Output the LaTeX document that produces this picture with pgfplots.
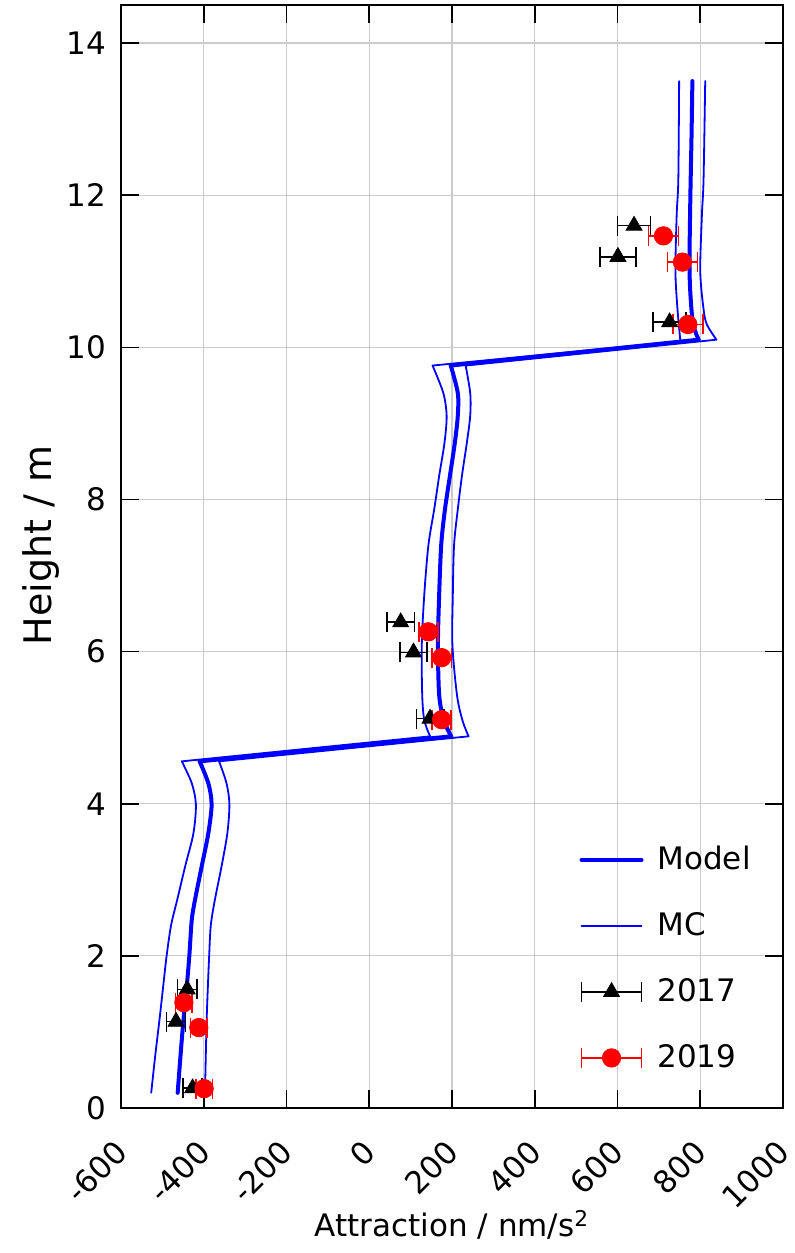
\documentclass[border=0pt]{standalone}
\usepackage{pgfplots}
\pgfplotsset{compat=1.18}
\usepackage{fontspec}
\setmainfont{DejaVu Sans}
\newcommand{\fs}{\fontsize{15.5}{18}\selectfont}
\pgfplotstableread{
x y
-463 0.2
-456 0.7
-449 1.16
-441 1.6
-435 1.99
-429 2.47
-421 2.74
-405 3.175
-389 3.61
-381 3.99
-389 4.27
-410 4.557
}\modelA
\pgfplotstableread{
x y
198 4.886
180 5.1
169 5.43
166 6.09
169 6.75
174 7.41
183 7.87
195 8.31
207 8.75
214 9.10
214 9.40
197 9.76
}\modelB
\pgfplotstableread{
x y
796 10.10
783 10.30
777 10.63
774 11.07
776 11.95
779 12.8
781 13.5
}\modelC
\pgfplotstableread{
x y
-527 0.2
-517 0.7
-507 1.16
-498 1.6
-490 1.99
-479 2.4
-464 2.74
-445 3.175
-425 3.61
-419 3.99
-429 4.27
-453 4.557
}\leftA
\pgfplotstableread{
x y
147 4.886
133 5.1
128 5.43
127 6.09
133 6.75
143 7.40
157 7.87
169 8.31
182 8.75
187 9.10
179 9.40
153 9.76
}\leftB
\pgfplotstableread{
x y
752 10.08
745 10.5
740 11.0
743 11.74
747 12.21
749 13.5
}\leftC
\pgfplotstableread{
x y
-397 0.2
-395 0.7
-393 1.16
-390 1.6
-387 1.99
-383 2.4
-373 2.74
-357 3.175
-343 3.61
-338 3.99
-345 4.27
-363 4.557
}\rightA
\pgfplotstableread{
x y
240 4.886
225 5.1
212 5.43
201 6.09
202 6.75
205 7.4
214 7.87
224 8.31
236 8.75
244 9.10
244 9.40
233 9.76
}\rightB
\pgfplotstableread{
x y
839 10.10
816 10.30
808 10.5
800 11.0
804 11.74
808 12.21
812 13.5
}\rightC
\begin{document}
\begin{tikzpicture}
\begin{axis}[
  scale only axis,
  width=331pt, height=551.5pt,
  xmin=-600, xmax=1000, ymin=0, ymax=14.5,
  xtick={-600,-400,...,1000}, ytick={0,2,...,14},
  /pgf/number format/assume math mode=true,
  /pgf/number format/1000 sep={},
  grid=major,
  major grid style={gray!40, line width=0.6pt},
  major tick length=9pt,
  tick style={black, line width=0.8pt},
  axis line style={black, line width=1pt},
  tick label style={font=\fs},
  xticklabel style={xshift=-4pt, yshift=-10pt, rotate=45, anchor=north east},
  yticklabel style={xshift=-4pt},
  xlabel={Attraction / nm/s\textsuperscript{2}},
  ylabel={Height / m},
  every axis x label/.style={at={([yshift=-58.5pt]axis description cs:0.5,0)}, anchor=center, font=\fs},
  every axis y label/.style={at={([xshift=-40pt]axis description cs:0,0.51)}, anchor=center, rotate=90, font=\fontsize{19}{22}\selectfont},
  legend style={draw=none, fill=none, font=\fs, at={(0.683,0.026)}, anchor=south west, row sep=16pt, column sep=5pt, legend cell align=left},
  legend image code/.code={\draw[#1] (0pt,0pt) -- (30pt,0pt);},
  model/.style={blue, line width=2pt, line cap=round, line join=round},
  mc/.style={blue, line width=0.9pt, line cap=round, line join=round},
]
% Model
\addplot[model, smooth] table {\modelA};
\addlegendentry{Model}
\addplot[model, smooth, forget plot] table {\modelB};
\addplot[model, smooth, forget plot] table {\modelC};
\addplot[model, forget plot] coordinates {(-410,4.557) (198,4.886)};
\addplot[model, forget plot] coordinates {(197,9.76) (796,10.10)};
% MC
\addplot[mc, smooth] table {\leftA};
\addlegendentry{MC}
\addplot[mc, smooth, forget plot] table {\leftB};
\addplot[mc, smooth, forget plot] table {\leftC};
\addplot[mc, forget plot] coordinates {(-453,4.557) (147,4.886)};
\addplot[mc, forget plot] coordinates {(153,9.76) (752,10.08)};
\addplot[mc, smooth, forget plot] table {\rightA};
\addplot[mc, smooth, forget plot] table {\rightB};
\addplot[mc, smooth, forget plot] table {\rightC};
\addplot[mc, forget plot] coordinates {(-363,4.557) (240,4.886)};
\addplot[mc, forget plot] coordinates {(233,9.76) (839,10.10)};
% 2017
\addplot[black, only marks, mark=triangle*, mark size=4.6pt,
  legend image code/.code={
    \draw[black, line width=0.8pt] (0pt,0pt) -- (30pt,0pt) (0pt,-5pt) -- (0pt,5pt) (30pt,-5pt) -- (30pt,5pt);
    \draw[black, mark=triangle*, mark size=4.6pt] plot coordinates {(15pt,0pt)};
  },
  error bars/.cd, x dir=both, x explicit, error mark=|, error bar style={black, line width=0.8pt},
  error mark options={black, mark size=5pt, line width=0.8pt}]
  coordinates {
(-440,1.56) +- (23,0)
(-467,1.135) +- (23,0)
(-427,0.26) +- (23,0)
(76,6.386) +- (33,0)
(107,5.99) +- (33,0)
(147,5.12) +- (33,0)
(640,11.6) +- (40,0)
(601,11.19) +- (43,0)
(726,10.33) +- (40,0)
};
\addlegendentry{2017}
% 2019
\addplot[red, only marks, mark=*, mark size=4.6pt,
  legend image code/.code={
    \draw[red, line width=0.8pt] (0pt,0pt) -- (30pt,0pt) (0pt,-5pt) -- (0pt,5pt) (30pt,-5pt) -- (30pt,5pt);
    \draw[red, mark=*, mark size=4.6pt] plot coordinates {(15pt,0pt)};
  },
  error bars/.cd, x dir=both, x explicit, error mark=|, error bar style={red, line width=0.8pt},
  error mark options={red, mark size=5pt, line width=0.8pt}]
  coordinates {
(-448,1.385) +- (20,0)
(-412,1.057) +- (20,0)
(-399,0.254) +- (20,0)
(143,6.26) +- (23,0)
(175,5.92) +- (24,0)
(175,5.105) +- (23,0)
(711,11.465) +- (36,0)
(757,11.12) +- (36,0)
(770,10.30) +- (36,0)
};
\addlegendentry{2019}
\end{axis}
\pgfresetboundingbox
\path ([xshift=-60.5pt,yshift=-72.5pt]current axis.south west) rectangle ([xshift=6pt,yshift=2.5pt]current axis.north east);
\end{tikzpicture}
\end{document}
